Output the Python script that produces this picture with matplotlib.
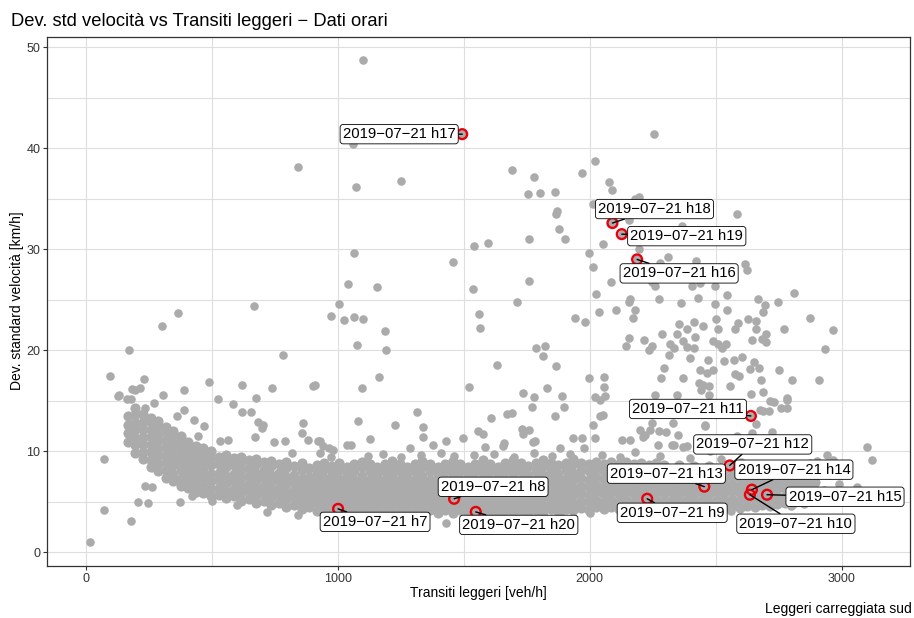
import matplotlib
matplotlib.use("Agg")
import matplotlib.pyplot as plt

plt.rcParams['font.family'] = ['Liberation Sans', 'DejaVu Sans']

out_x = [1100, 1058, 841, 1072, 1249, 1062, 1040, 1154, 1457, 1004, 971, 1024, 1065, 1099, 1188, 1074, 1189,
         1163, 1094, 909, 781, 665, 363, 301, 168, 93, 228, 738, 617, 486, 388, 306,
         1690, 1778, 1969, 1754, 1803, 1861, 1869, 1864, 1877, 1760, 1902, 1540, 1597, 1996, 1537, 1759,
         1712, 1561, 1563, 1943, 1980,
         2255, 2022, 2078, 2090, 2197, 2180, 2014, 2584, 2157, 2365, 2053, 2196, 2310, 2423, 2278, 2014,
         2616, 2626, 2086, 2246, 2259, 2405, 2439, 2498, 2025, 2544, 2813, 2160, 2274, 2429, 2670, 2696,
         2748, 2363, 2155, 2497, 2545, 2690, 2036, 2103, 2180, 2173, 2875, 2968, 2502, 2588, 2628, 2660,
         2354, 2412, 2449, 2385, 2773, 2285, 2346, 2419, 2661, 2700, 2509, 2577,
         2157, 2216, 2145, 2248, 2236, 2319, 2336, 2369, 2385, 2412, 2489, 2511, 2541, 2526, 2644, 2684,
         2700, 2314, 2398, 2469, 2532, 2571, 2604, 2654, 2935, 2294, 2439, 2465, 2491, 2575, 2594, 2637,
         2673, 2752, 2282, 2369, 2434, 2451, 2473, 2557, 2679, 2805, 2911, 2688, 2640, 2475, 2441, 2261,
         2783, 1995, 2056, 2056, 2022, 2061, 1891, 1829, 1735, 1780, 1522, 1632, 1816, 1788, 1824, 1867,
         2346, 2714, 2759, 2785, 2688, 2041, 2459, 2661, 2723, 3103, 3122, 2240, 2213, 2303, 2021, 2127,
         2160, 2270, 2336, 2372, 2465, 2584,
         15, 69, 69, 176, 205, 244, 372, 233, 260, 127, 160, 178, 192, 213, 522, 584, 673, 617, 653, 681,
         703, 427, 389, 359, 269, 233, 468, 445, 531, 564, 670, 747, 789, 860, 856, 902, 1078, 1127, 1226,
         1315, 1336, 1336, 1428, 1034, 1052, 922, 962, 981, 1286, 718, 840, 1429,
         1498, 1772, 1862, 1899, 1609, 1670, 1690, 1730, 1759, 1736, 1557, 1575, 1661, 1776, 1935, 1971,
         1975, 1376, 1584, 1654, 1882, 130, 180, 697, 882, 928, 939, 971, 929, 818,
         1783, 2014, 2054, 2041, 2200, 2220, 2246, 2273, 2332, 2352, 2458, 2326, 2385, 2478, 2557, 2644,
         2677, 2710, 2730, 2783, 2942, 2968, 3061, 2875, 2902,
         1120, 1180, 1250, 1330, 1410, 1460, 1540, 1620, 1700, 1780, 1850, 1920, 2050, 2120, 2180, 2280,
         2400, 2520, 2600, 2680, 2760, 2820, 2950, 2990, 3020, 2930, 2960, 2880, 2850, 2800,
         1240, 1320, 1520, 1610, 1700, 1880, 2000, 2150, 2300, 2420, 2560, 1100, 960, 600, 500, 420]
out_y = [48.7, 40.4, 38.1, 36.2, 36.8, 29.6, 26.6, 26.3, 28.7, 24.6, 23.4, 23.0, 23.3, 23.1, 21.9, 20.5, 20.0,
         17.4, 16.3, 16.6, 19.5, 24.4, 23.7, 22.4, 20.0, 17.5, 17.2, 16.3, 16.6, 16.9, 16.1, 15.6,
         37.9, 37.2, 37.6, 35.5, 35.6, 35.7, 33.8, 33.5, 32.0, 31.0, 31.0, 30.3, 30.6, 29.6, 26.1, 26.9,
         24.8, 23.6, 22.2, 23.2, 22.8,
         41.4, 38.7, 36.7, 35.9, 35.2, 35.0, 34.5, 33.5, 32.9, 32.3, 30.5, 30.0, 29.2, 28.8, 28.6, 28.2,
         28.5, 28.0, 26.8, 26.8, 26.4, 26.4, 26.7, 26.4, 25.6, 25.5, 25.7, 25.1, 25.1, 25.2, 25.1, 24.5,
         24.8, 24.7, 24.8, 24.6, 24.0, 23.8, 23.8, 24.0, 24.0, 23.2, 23.2, 22.0, 23.1, 22.7, 23.1, 22.9,
         22.6, 22.8, 22.4, 22.1, 22.1, 21.6, 21.6, 21.3, 22.1, 21.6, 22.1, 22.1,
         21.2, 21.0, 20.4, 20.4, 20.0, 20.6, 20.2, 20.9, 20.3, 20.2, 20.9, 20.6, 20.6, 20.2, 21.0, 21.1,
         20.8, 19.5, 19.2, 19.0, 18.9, 19.0, 19.3, 18.8, 20.1, 18.2, 18.0, 17.8, 18.0, 17.7, 17.5, 18.1,
         18.2, 18.0, 17.3, 17.3, 16.8, 16.6, 16.5, 16.5, 17.1, 17.1, 17.1, 15.9, 15.7, 15.6, 16.1, 15.6,
         15.3, 17.3, 17.4, 16.4, 15.4, 15.5, 15.5, 16.3, 15.8, 15.4, 16.4, 18.5, 19.4, 20.2, 20.4, 18.4,
         15.6, 15.0, 14.3, 15.1, 14.0, 13.5, 12.5, 12.7, 11.9, 10.4, 9.1, 12.1, 11.4, 11.9, 11.3, 11.1,
         11.1, 10.6, 10.6, 10.4, 11.0, 11.5,
         1.0, 4.2, 9.2, 3.1, 5.0, 4.9, 5.0, 6.6, 6.5, 15.5, 15.2, 15.2, 16.1, 16.3, 15.2, 14.7, 15.3, 13.9, 13.9, 12.9,
         12.6, 13.1, 14.1, 13.5, 14.8, 14.3, 12.5, 11.5, 11.0, 11.1, 11.4, 10.9, 11.0, 12.8, 11.8, 16.5, 13.0, 11.2, 12.6,
         13.9, 12.4, 11.4, 11.0, 10.6, 10.6, 11.0, 10.3, 10.1, 10.3, 4.0, 3.7, 2.9,
         11.3, 14.4, 13.5, 14.4, 13.3, 13.7, 13.8, 12.2, 12.1, 11.7, 12.0, 11.7, 10.8, 10.9, 11.3, 11.3,
         10.3, 10.6, 10.4, 10.5, 10.3, 15.6, 16.2, 12.3, 11.1, 11.0, 10.5, 9.4, 9.8, 9.8,
         11.0, 12.6, 13.6, 15.1, 12.1, 11.6, 12.8, 12.0, 12.8, 11.6, 12.6, 10.6, 10.5, 10.0, 10.3, 11.8,
         14.1, 14.0, 14.9, 14.3, 9.6, 9.1, 6.5, 8.8, 9.0,
         9.5, 9.7, 9.4, 9.6, 9.8, 9.5, 9.6, 9.7, 9.4, 9.8, 9.5, 9.7, 9.6, 9.4, 9.9, 9.5,
         9.3, 9.2, 8.9, 8.7, 8.6, 8.3, 7.7, 6.8, 5.9, 6.2, 5.4, 5.0, 4.8, 4.6,
         3.3, 3.4, 3.5, 3.3, 3.5, 3.7, 3.9, 4.0, 3.9, 4.0, 4.1, 3.5, 3.7, 4.7, 5.1, 5.6]

# the dense core of the cloud, column by column (x, y values seen in that column)
band_cols = [
    (165, "10.9 11.8 12.6 13.5"),
    (195, "9.8 10.6 11.3 12.1 12.8 13.6 14.3"),
    (225, "9.2 9.9 10.7 11.4 12.2 12.9 13.7"),
    (255, "8.4 9.1 9.9 10.6 11.4 12.1 12.9 13.3"),
    (285, "8.0 8.7 9.5 10.2 11.0 11.7 12.5 13.0"),
    (315, "7.4 8.1 8.9 9.6 10.4 11.1 11.9 12.4"),
    (345, "7.1 7.8 8.6 9.3 10.1 10.8 11.6 12.0"),
    (375, "6.6 7.3 8.1 8.8 9.6 10.3 11.1 11.5"),
    (405, "6.4 7.1 7.9 8.6 9.4 10.1 10.9"),
    (435, "6.0 6.7 7.5 8.2 9.0 9.7 10.5"),
    (465, "5.9 6.6 7.4 8.1 8.9 9.6 10.3"),
    (495, "5.6 6.3 7.1 7.8 8.6 9.3 10.0"),
    (525, "5.7 6.4 7.2 7.9 8.7 9.4"),
    (555, "5.4 6.1 6.9 7.6 8.4 9.1 9.6"),
    (585, "5.6 6.3 7.1 7.8 8.6 9.3"),
    (615, "5.1 5.9 6.6 7.4 8.1 8.9 9.4"),
    (645, "5.3 6.1 6.8 7.6 8.3 9.1"),
    (675, "4.9 5.7 6.4 7.2 7.9 8.7 9.2"),
    (705, "5.1 5.9 6.6 7.4 8.1 8.9"),
    (735, "4.7 5.5 6.2 7.0 7.7 8.5 9.0"),
    (765, "4.9 5.7 6.4 7.2 7.9 8.7"),
    (795, "4.5 5.3 6.0 6.8 7.5 8.3 8.9"),
    (825, "4.7 5.5 6.2 7.0 7.7 8.5"),
    (855, "4.3 5.1 5.8 6.6 7.3 8.1 8.8"),
    (885, "4.5 5.3 6.0 6.8 7.5 8.3"),
    (915, "4.1 4.9 5.6 6.4 7.1 7.9 8.6"),
    (945, "4.4 5.2 5.9 6.7 7.4 8.2 8.8"),
    (975, "4.0 4.8 5.5 6.3 7.0 7.8 8.5"),
    (1005, "4.3 5.1 5.8 6.6 7.3 8.1 8.8"),
    (1035, "3.9 4.7 5.4 6.2 6.9 7.7 8.4"),
    (1065, "4.2 5.0 5.7 6.5 7.2 8.0 8.7"),
    (1095, "3.9 4.6 5.4 6.1 6.9 7.6 8.4 8.9"),
    (1125, "4.2 5.0 5.7 6.5 7.2 8.0 8.7"),
    (1155, "3.9 4.7 5.4 6.2 6.9 7.7 8.4"),
    (1185, "4.2 5.0 5.7 6.5 7.2 8.0 8.7"),
    (1215, "3.9 4.7 5.4 6.2 6.9 7.7 8.4 9.0"),
    (1245, "4.2 5.0 5.7 6.5 7.2 8.0 8.7"),
    (1275, "3.9 4.7 5.4 6.2 6.9 7.7 8.4"),
    (1305, "4.2 5.0 5.7 6.5 7.2 8.0 8.7"),
    (1335, "3.8 4.6 5.4 6.1 6.9 7.6 8.4 9.0"),
    (1365, "4.2 5.0 5.7 6.5 7.2 8.0 8.7"),
    (1395, "3.9 4.7 5.4 6.2 6.9 7.7 8.4"),
    (1425, "4.2 5.0 5.7 6.5 7.2 8.0 8.7"),
    (1455, "3.9 4.7 5.4 6.2 6.9 7.7 8.4 9.0"),
    (1485, "4.2 5.0 5.7 6.5 7.2 8.0 8.7"),
    (1515, "3.9 4.7 5.4 6.2 6.9 7.7 8.4"),
    (1545, "4.2 5.0 5.7 6.5 7.2 8.0 8.7"),
    (1575, "3.9 4.7 5.4 6.2 6.9 7.7 8.4 9.1"),
    (1605, "4.2 5.0 5.7 6.5 7.2 8.0 8.7"),
    (1635, "3.9 4.7 5.4 6.2 6.9 7.7 8.4"),
    (1665, "4.2 5.0 5.7 6.5 7.2 8.0 8.8"),
    (1695, "3.9 4.7 5.4 6.2 6.9 7.7 8.4 9.1"),
    (1725, "4.2 5.0 5.7 6.5 7.2 8.0 8.8"),
    (1755, "4.0 4.7 5.5 6.2 7.0 7.7 8.5"),
    (1785, "4.2 5.0 5.7 6.5 7.2 8.0 8.8"),
    (1815, "4.0 4.7 5.5 6.2 7.0 7.7 8.5 9.1"),
    (1845, "4.3 5.0 5.8 6.5 7.3 8.0 8.8"),
    (1875, "4.1 4.8 5.6 6.3 7.1 7.8 8.6"),
    (1905, "4.3 5.1 5.8 6.6 7.3 8.1 8.8"),
    (1935, "4.2 4.9 5.7 6.4 7.2 7.9 8.7 9.2"),
    (1965, "4.4 5.1 5.9 6.6 7.4 8.1 8.8"),
    (1995, "4.2 5.0 5.7 6.5 7.2 8.0 8.7"),
    (2025, "4.5 5.2 6.0 6.7 7.5 8.2 8.9"),
    (2055, "4.3 5.0 5.8 6.5 7.3 8.0 8.7"),
    (2085, "4.5 5.2 6.0 6.7 7.5 8.2 8.9"),
    (2115, "4.3 5.0 5.8 6.5 7.3 8.0 8.7"),
    (2145, "4.5 5.2 6.0 6.7 7.5 8.2 8.9"),
    (2175, "4.3 5.0 5.8 6.5 7.3 8.0 8.7"),
    (2205, "4.5 5.2 6.0 6.7 7.5 8.2 8.8"),
    (2235, "4.3 5.0 5.8 6.5 7.3 8.0 8.6"),
    (2265, "4.5 5.2 6.0 6.7 7.5 8.2 8.8"),
    (2295, "4.3 5.0 5.8 6.5 7.3 8.0 8.6"),
    (2325, "4.5 5.2 6.0 6.7 7.5 8.2"),
    (2355, "4.3 5.0 5.8 6.5 7.3 8.0 8.6"),
    (2385, "4.5 5.2 6.0 6.7 7.5 8.2"),
    (2415, "4.3 5.0 5.8 6.5 7.3 8.0 8.5"),
    (2445, "4.5 5.2 6.0 6.7 7.5 8.2"),
    (2475, "4.3 5.0 5.8 6.5 7.3 8.0 8.5"),
    (2505, "4.5 5.2 6.0 6.7 7.5 8.2"),
    (2535, "4.4 5.1 5.9 6.6 7.4 8.1"),
    (2565, "4.6 5.3 6.1 6.8 7.6 8.2"),
    (2595, "4.4 5.1 5.9 6.6 7.4 8.0"),
    (2625, "4.6 5.3 6.1 6.8 7.5"),
    (2655, "4.5 5.2 6.0 6.7 7.4 8.0"),
    (2685, "4.7 5.4 6.2 6.9 7.6"),
    (2715, "4.6 5.3 6.1 6.8 7.5"),
    (2745, "4.8 5.5 6.3 7.0 7.7"),
    (2775, "4.9 5.6 6.4 7.1 7.7"),
    (2805, "4.8 5.5 6.3 7.0 7.7"),
    (2835, "5.2 6.0 6.7 7.4"),
    (2865, "5.8 6.5 7.2"),
    (2895, "6.2 7.0"),
]

# highlighted hours of 2019-07-21
hl_labels = ['2019−07−21 h7', '2019−07−21 h8', '2019−07−21 h9', '2019−07−21 h10',
             '2019−07−21 h11', '2019−07−21 h12', '2019−07−21 h13', '2019−07−21 h14',
             '2019−07−21 h15', '2019−07−21 h16', '2019−07−21 h17', '2019−07−21 h18',
             '2019−07−21 h19', '2019−07−21 h20']
hl_x = [1000, 1461, 2228, 2636, 2640, 2556, 2455, 2644, 2704, 2188, 1493, 2090, 2127, 1547]
hl_y = [4.3, 5.3, 5.3, 5.7, 13.5, 8.6, 6.5, 6.2, 5.7, 29.0, 41.4, 32.6, 31.5, 4.0]

# label placement (pixel offsets from the point, like the repelled labels)
label_off = [(37, -13), (39, 12), (25, -14), (46, -29), (-63, 7), (23, 21), (-38, 13),
             (42, 20), (78, -2), (42, -14), (-63, 0), (42, 14), (65, -2), (43, -13)]

band_x, band_y = [], []
for bx, ys in band_cols:
    for v in ys.split():
        band_x.append(bx)
        band_y.append(float(v))

fig = plt.figure(figsize=(9.14, 6.18), dpi=100)
ax = fig.add_axes([0.0518, 0.0841, 0.9438, 0.8565])

gray = '#ABABAB'
ax.scatter(band_x, band_y, s=54, color=gray, linewidths=0, zorder=2)
ax.scatter(out_x, out_y, s=38, color=gray, linewidths=0, zorder=2)
ax.scatter(hl_x, hl_y, s=38, color=gray, linewidths=0, zorder=2)
ax.scatter(hl_x, hl_y, s=50, facecolors='none', edgecolors='#E8000B', linewidths=1.7, zorder=3)

for lab, px, py, off in zip(hl_labels, hl_x, hl_y, label_off):
    ax.annotate(lab, xy=(px, py), xytext=off, textcoords='offset pixels',
                ha='center', va='center', fontsize=10.7, color='black', zorder=5,
                bbox=dict(boxstyle='round,pad=0.18,rounding_size=0.2', fc='white', ec='black', lw=0.6),
                arrowprops=dict(arrowstyle='-', color='black', lw=1.0, shrinkA=0, shrinkB=0))

ax.set_xlim(-155, 3272)
ax.set_ylim(-1.36, 51.05)
ax.set_xticks([0, 1000, 2000, 3000])
ax.set_yticks([0, 10, 20, 30, 40, 50])
ax.set_xticks([500, 1500, 2500], minor=True)
ax.set_yticks([5, 15, 25, 35, 45], minor=True)
ax.grid(True, which='both', color='#DEDEDE', lw=0.8, zorder=0)
ax.set_axisbelow(True)
ax.tick_params(which='major', length=3, width=0.8, color='#333333', labelsize=9,
               labelcolor='#333333', pad=2)
ax.tick_params(which='minor', length=0)
for sp in ax.spines.values():
    sp.set_color('#333333')
    sp.set_linewidth(0.9)

fig.text(11 / 914, 1 - 21 / 618, 'Dev. std velocità vs Transiti leggeri − Dati orari',
         fontsize=13.2, ha='left', va='center')
fig.text(478 / 914, 1 - 593 / 618, 'Transiti leggeri [veh/h]', fontsize=10, ha='center', va='center')
fig.text(17 / 914, 1 - 301 / 618, 'Dev. standard velocità [km/h]', fontsize=10,
         ha='center', va='center', rotation=90)
fig.text(912 / 914, 1 - 609 / 618, 'Leggeri carreggiata sud', fontsize=10, ha='right', va='center')

fig.savefig('out.png', dpi=100)
